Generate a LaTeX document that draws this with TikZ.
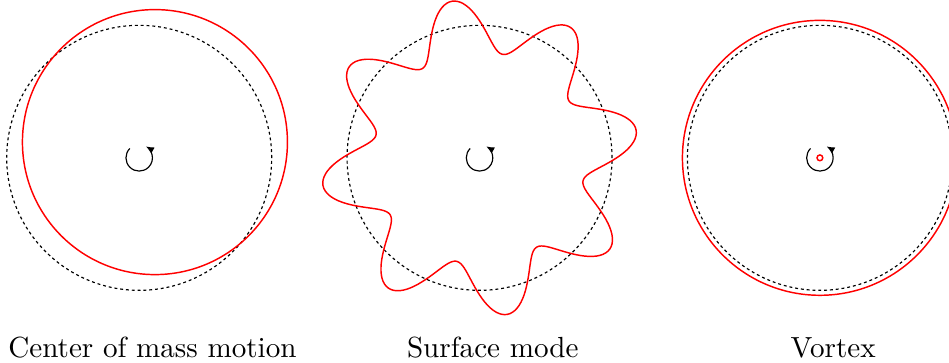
\documentclass[tikz,border=0pt]{standalone}
\usetikzlibrary{arrows.meta,calc}
\newcommand{\Rad}{1.6}
\newcommand{\Gap}{4.11}
\newcommand{\Amp}{0.32}
\newcommand{\Lobes}{8}
\newcommand{\SpinR}{0.16}
\newcommand{\Shift}{0.19}
\newcommand{\VortR}{1.66}

\begin{document}
\begin{tikzpicture}[
    rest/.style={draw=black, line width=0.4pt, dash pattern=on 1pt off 1pt},
    fluid/.style={draw=red, line width=0.5pt},
    spin/.style={-{Latex[length=2.8pt,width=2.4pt]}, draw=black, line width=0.4pt},
    caption/.style={anchor=base, font=\normalsize},
  ]
\useasboundingbox (-1.681,-2.466) rectangle (9.779,1.906);

% --- rest shape, sense of rotation and caption of each panel ------------------------
\foreach \i/\name/\text in {0/com/{Center of mass motion},
                            1/surf/{Surface mode},
                            2/vort/{Vortex}} {
  \coordinate (\name) at (\i*\Gap, 0);
  \draw[rest] (\name) circle (\Rad);
  \draw[spin] ($(\name)+(135:\SpinR)$) arc (135:420:\SpinR);
  \node[caption] (\name-label) at ($(\name)+(0.16,-2.41)$) {\text};
}

% --- the perturbed shapes -----------------------------------------------------------
\draw[fluid] ($(com)+(\Shift,\Shift)$) circle (\Rad);
\draw[fluid, shift={(surf)}] plot[smooth cycle, domain=0:359, samples=360]
  (\x:{\Rad+\Amp*cos(\Lobes*\x-80)});
\draw[fluid] (vort) circle (\VortR);
\draw[fluid] (vort) circle (0.035);

\end{tikzpicture}
\end{document}
